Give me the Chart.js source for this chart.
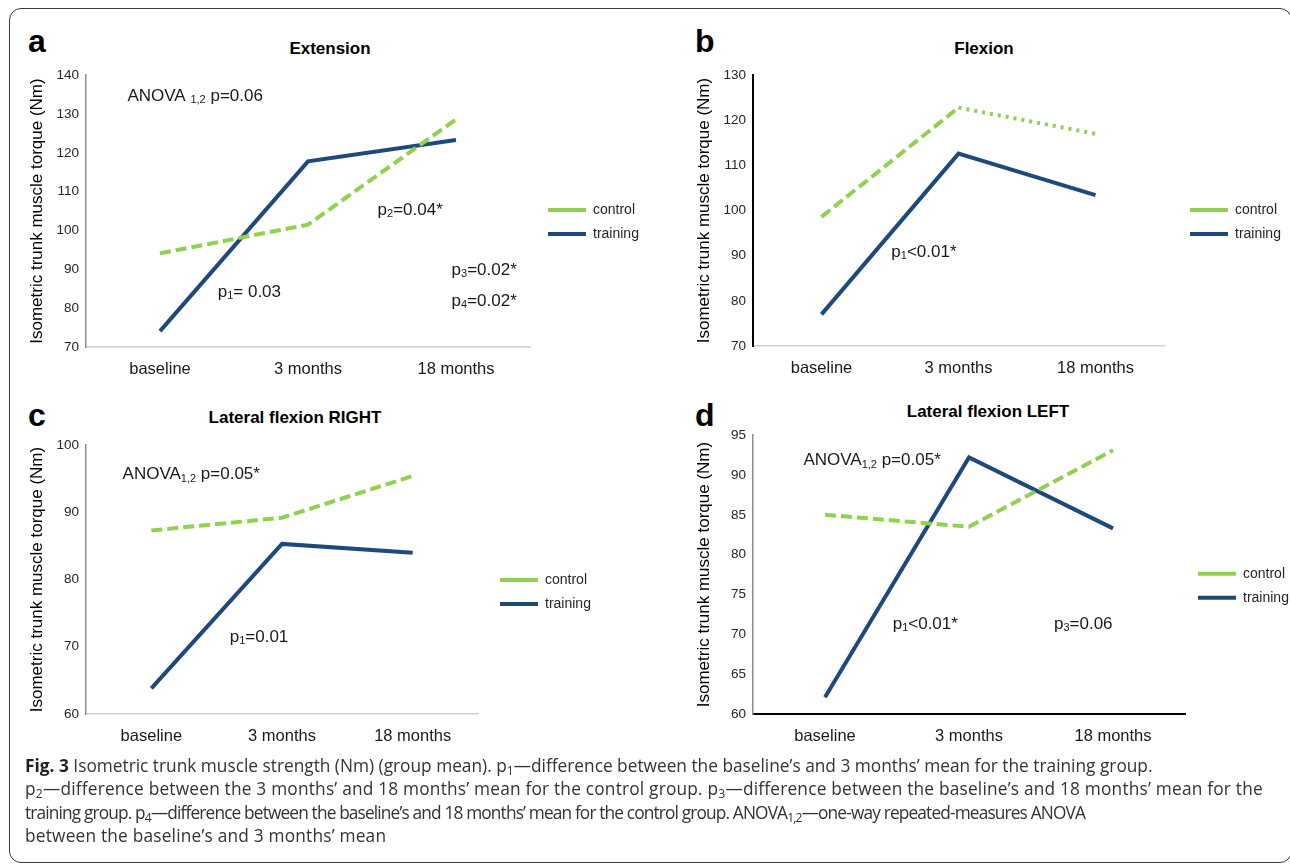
<!DOCTYPE html>
<html>
<head>
<meta charset="utf-8">
<title>Fig. 3 Isometric trunk muscle strength</title>
<script src="https://cdn.jsdelivr.net/npm/chart.js@4.4.1/dist/chart.umd.min.js"></script>
<style>
  html, body { margin: 0; padding: 0; background: #fff; }
  body { width: 1290px; height: 864px; position: relative; overflow: hidden; font-family: "Liberation Sans", Arial, sans-serif; }
  .frame { position: absolute; left: 9px; top: 8px; width: 1283px; height: 855px; border: 1.5px solid #3a3a3a; border-radius: 12px; box-sizing: border-box; }
  canvas { position: absolute; }
  .letter { position: absolute; font-weight: bold; font-size: 32px; line-height: 1; color: #000; }
  .title { position: absolute; font-weight: bold; font-size: 17px; line-height: 1; color: #000; transform: translateX(-50%); white-space: nowrap; }
  .caption { position: absolute; left: 25px; top: 753.5px; font-family: "Open Sans", sans-serif; font-size: 17.3px; line-height: 23.5px; color: #333; white-space: nowrap; }
  .caption b { color: #231f20; letter-spacing: 0; }
  .caption sub { font-size: 70%; line-height: 0; vertical-align: -0.25em; }
</style>
</head>
<body>
<div class="frame"></div>

<div class="letter" style="left:28px; top:25px">a</div>
<div class="title" style="left:330px; top:39.6px">Extension</div>
<div class="letter" style="left:695px; top:25px">b</div>
<div class="title" style="left:984px; top:39.6px">Flexion</div>
<div class="letter" style="left:28px; top:398.6px">c</div>
<div class="title" style="left:295px; top:409px">Lateral flexion RIGHT</div>
<div class="letter" style="left:695px; top:399px">d</div>
<div class="title" style="left:988px; top:402.6px">Lateral flexion LEFT</div>

<canvas id="chartA" width="650" height="330" style="left:0px; top:60px"></canvas>
<canvas id="chartB" width="640" height="330" style="left:650px; top:60px"></canvas>
<canvas id="chartC" width="650" height="330" style="left:0px; top:430px"></canvas>
<canvas id="chartD" width="640" height="340" style="left:650px; top:420px"></canvas>

<div class="caption">
<div><b>Fig. 3</b> Isometric trunk muscle strength (Nm) (group mean). p<sub>1</sub>—difference between the baseline’s and 3 months’ mean for the training group.</div>
<div style="letter-spacing:0.2px">p<sub>2</sub>—difference between the 3 months’ and 18 months’ mean for the control group. p<sub>3</sub>—difference between the baseline’s and 18 months’ mean for the</div>
<div style="letter-spacing:-0.85px">training group. p<sub>4</sub>—difference between the baseline’s and 18 months’ mean for the control group. ANOVA<sub>1,2</sub>—one-way repeated-measures ANOVA</div>
<div style="letter-spacing:0.2px">between the baseline’s and 3 months’ mean</div>
</div>

<script>
const categories = ['baseline', '3 months', '18 months'];

// group means (Nm)
const extensionControl = [94.1, 101.5, 128.6];
const extensionTraining = [74.1, 117.8, 123.3];
const flexionControl = [98.6, 122.8, 117.0];
const flexionTraining = [77.0, 112.6, 103.4];
const rightControl = [87.3, 89.2, 95.4];
const rightTraining = [63.8, 85.3, 84.0];
const leftControl = [85.0, 83.5, 93.1];
const leftTraining = [62.1, 92.2, 83.3];

// y axis: min, max, step
const extensionTicks = [70, 140, 10];
const flexionTicks = [70, 130, 10];
const rightTicks = [60, 100, 10];
const leftTicks = [60, 95, 5];

// p-value notes, pieces of text ('sub' = subscript)
const extensionNotes = [
  [['ANOVA '], ['1,2', 'sub'], [' p=0.06']],
  [['p'], ['2', 'sub'], ['=0.04*']],
  [['p'], ['3', 'sub'], ['=0.02*']],
  [['p'], ['4', 'sub'], ['=0.02*']],
  [['p'], ['1', 'sub'], ['= 0.03']]
];
const flexionNotes = [
  [['p'], ['1', 'sub'], ['<0.01*']]
];
const rightNotes = [
  [['ANOVA'], ['1,2', 'sub'], [' p=0.05*']],
  [['p'], ['1', 'sub'], ['=0.01']]
];
const leftNotes = [
  [['ANOVA'], ['1,2', 'sub'], [' p=0.05*']],
  [['p'], ['1', 'sub'], ['<0.01*']],
  [['p'], ['3', 'sub'], ['=0.06']]
];

const green = '#92D050';
const navy = '#1F497D';
const fontFamily = '"Liberation Sans", Arial, sans-serif';
Chart.defaults.font.family = fontFamily;

// moves the legend to the right of the plot area
function placeLegend(dx, dy) {
  return {
    id: 'placeLegend',
    afterLayout(chart) {
      const lg = chart.legend;
      const area = chart.chartArea;
      const pad = lg.options.labels.padding;
      lg.left = area.right + dx - pad;
      lg.right = lg.left + lg.width;
      lg.top = area.top + dy - pad - 7;
      lg.bottom = lg.top + lg.height;
    }
  };
}

// writes the p-value notes, anchored in data units (category index, Nm)
function drawNotes(notes, anchors) {
  return {
    id: 'notes',
    afterDatasetsDraw(chart) {
      const { ctx, scales: { x, y } } = chart;
      ctx.save();
      ctx.fillStyle = '#1a1a1a';
      ctx.textBaseline = 'middle';
      ctx.textAlign = 'left';
      notes.forEach((pieces, i) => {
        let px = x.getPixelForValue(anchors[i][0]);
        const py = y.getPixelForValue(anchors[i][1]);
        pieces.forEach(([str, kind]) => {
          const sub = kind === 'sub';
          ctx.font = (sub ? 11 : 17) + 'px ' + fontFamily;
          ctx.fillText(str, px, sub ? py + 4 : py);
          px += ctx.measureText(str).width;
        });
      });
      ctx.restore();
    }
  };
}

function trunkChart(id, p) {
  return new Chart(document.getElementById(id), {
    type: 'line',
    data: {
      labels: categories,
      datasets: [
        {
          label: 'control',
          data: p.control,
          borderColor: green,
          backgroundColor: green,
          borderWidth: 4,
          borderDash: p.controlDash || [11, 5],
          segment: p.segment,
          pointRadius: 0,
          fill: false
        },
        {
          label: 'training',
          data: p.training,
          borderColor: navy,
          backgroundColor: navy,
          borderWidth: 4,
          pointRadius: 0,
          fill: false
        }
      ]
    },
    options: {
      responsive: false,
      animation: false,
      events: [],
      layout: { padding: p.padding },
      plugins: {
        legend: {
          position: 'chartArea',
          align: 'start',
          labels: {
            usePointStyle: true,
            pointStyle: 'line',
            pointStyleWidth: 38,
            padding: 10,
            color: '#262626',
            font: { size: 14 }
          }
        },
        tooltip: { enabled: false }
      },
      scales: {
        x: {
          offset: true,
          grid: { display: false, drawTicks: false },
          border: { color: p.xBorder[0], width: p.xBorder[1] },
          ticks: { color: '#1a1a1a', font: { size: 16.5 }, padding: 12.5 },
          afterFit(scale) { scale.height = 40; }
        },
        y: {
          min: p.ticks[0],
          max: p.ticks[1],
          grid: { display: false, drawTicks: false },
          border: { color: p.yBorder[0], width: p.yBorder[1] },
          ticks: { stepSize: p.ticks[2], color: '#262626', font: { size: 13.5 }, padding: 7 },
          title: {
            display: true,
            text: 'Isometric trunk muscle torque (Nm)',
            color: '#000',
            font: { size: 17 },
            padding: { top: p.titleOffset, bottom: 0 }
          },
          afterFit(scale) { scale.width = p.yWidth; }
        }
      }
    },
    plugins: [placeLegend(p.legendAt[0], p.legendAt[1]), drawNotes(p.notes, p.noteAt)]
  });
}

trunkChart('chartA', {
  control: extensionControl,
  training: extensionTraining,
  ticks: extensionTicks,
  notes: extensionNotes,
  noteAt: [[-0.22, 134.6], [1.47, 105.3], [1.97, 89.8], [1.97, 81.8], [0.39, 84.2]],
  padding: { left: 0, top: 15, right: 120, bottom: 3 },
  yWidth: 86,
  titleOffset: 26.8,
  xBorder: ['#d0d0d0', 1.5],
  yBorder: ['#8c8c8c', 1.5],
  legendAt: [18, 135]
});

trunkChart('chartB', {
  control: flexionControl,
  training: flexionTraining,
  ticks: flexionTicks,
  notes: flexionNotes,
  noteAt: [[0.51, 90.8]],
  controlDash: [3, 5],
  segment: { borderDash: ctx => ctx.p0DataIndex === 0 ? [11, 5] : undefined },
  padding: { left: 0, top: 15, right: 126, bottom: 4 },
  yWidth: 103,
  titleOffset: 43.8,
  xBorder: ['#d0d0d0', 1.5],
  yBorder: ['#000000', 2],
  legendAt: [26, 135]
});

trunkChart('chartC', {
  control: rightControl,
  training: rightTraining,
  ticks: rightTicks,
  notes: rightNotes,
  noteAt: [[-0.22, 95.6], [0.6, 71.4]],
  padding: { left: 0, top: 14, right: 172, bottom: 6 },
  yWidth: 86,
  titleOffset: 26.8,
  xBorder: ['#d0d0d0', 1.5],
  yBorder: ['#8c8c8c', 1.5],
  legendAt: [22, 135]
});

trunkChart('chartD', {
  control: leftControl,
  training: leftTraining,
  ticks: leftTicks,
  notes: leftNotes,
  noteAt: [[-0.15, 91.8], [0.47, 71.3], [1.59, 71.3]],
  padding: { left: 0, top: 13, right: 105, bottom: 6 },
  yWidth: 103,
  titleOffset: 43.8,
  xBorder: ['#000000', 2],
  yBorder: ['#8c8c8c', 1.5],
  legendAt: [13, 138.7]
});
</script>
</body>
</html>
